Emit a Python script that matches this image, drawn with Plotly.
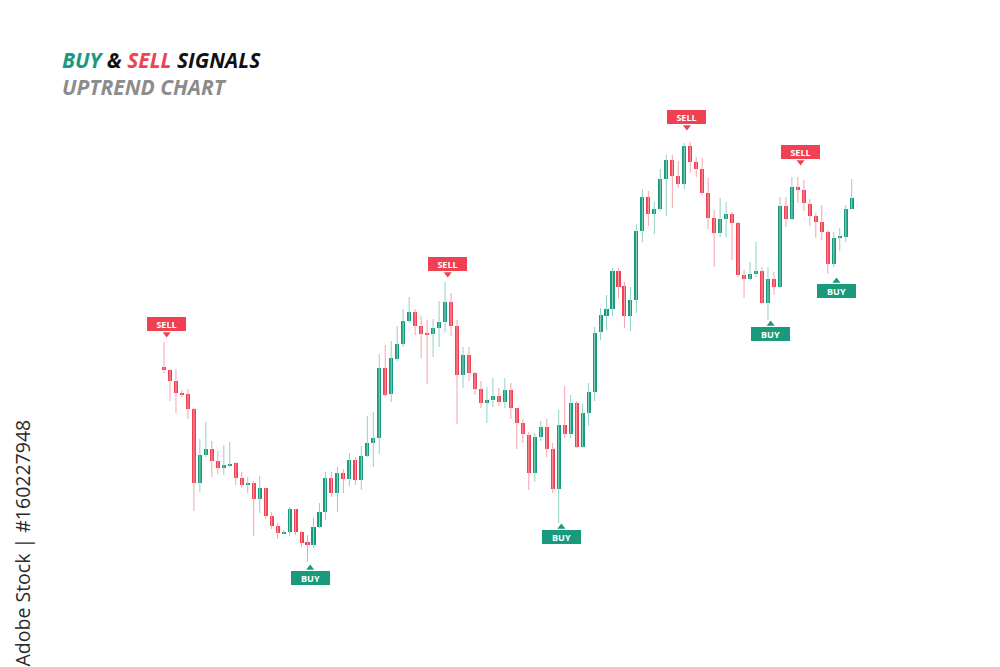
import plotly.graph_objects as go

# ---------------- data ----------------
opens = [233, 230, 219, 207, 206, 191, 117, 145, 151, 139, 132, 134, 137, 122, 115, 117, 101, 112, 84, 74,
         66, 68, 91, 68, 58, 55, 73, 88, 122, 107, 127, 121, 140, 120, 144, 157, 162, 232, 206, 241,
         256, 279, 288, 274, 267, 266, 272, 278, 298, 274, 225, 245, 227, 211, 197, 200, 204, 198, 210, 192,
         177, 165, 127, 163, 173, 151, 111, 175, 166, 197, 153, 187, 208, 268, 284, 291, 329, 314, 284, 300,
         369, 403, 386, 391, 421, 440, 424, 416, 454, 438, 431, 407, 382, 367, 381, 386, 377, 325, 321, 326,
         329, 297, 321, 313, 394, 381, 413, 410, 396, 384, 378, 368, 336, 362, 363, 391]
highs = [258, 231, 231, 210, 211, 192, 161, 178, 159, 149, 155, 158, 138, 128, 123, 119, 124, 112, 88, 77,
         70, 93, 91, 69, 65, 82, 97, 128, 128, 133, 131, 147, 143, 154, 184, 188, 246, 255, 259, 274,
         291, 303, 291, 284, 280, 281, 299, 318, 307, 280, 253, 253, 228, 219, 213, 222, 212, 222, 217, 192,
         181, 168, 167, 179, 181, 157, 190, 214, 205, 199, 196, 217, 273, 292, 305, 332, 332, 318, 313, 376,
         411, 409, 398, 431, 445, 445, 439, 457, 458, 443, 442, 422, 390, 402, 398, 388, 378, 330, 338, 358,
         333, 333, 328, 403, 403, 423, 423, 420, 401, 387, 395, 370, 368, 372, 395, 421]
lows = [227, 199, 187, 203, 181, 89, 108, 143, 123, 126, 125, 133, 115, 112, 107, 64, 87, 81, 71, 61,
        66, 64, 65, 53, 38, 52, 72, 80, 103, 88, 107, 114, 115, 110, 143, 133, 146, 204, 198, 239,
        253, 277, 265, 242, 216, 243, 253, 268, 264, 176, 212, 219, 205, 192, 177, 193, 194, 192, 181, 151,
        157, 110, 118, 159, 143, 107, 77, 162, 162, 152, 152, 174, 199, 260, 270, 284, 302, 272, 269, 287,
        358, 374, 366, 389, 384, 392, 412, 411, 427, 423, 405, 371, 333, 363, 363, 340, 323, 302, 320, 323,
        296, 280, 305, 312, 373, 380, 397, 389, 374, 362, 360, 326, 333, 349, 358, 391]
closes = [230, 219, 207, 205, 191, 117, 145, 151, 139, 132, 135, 136, 122, 115, 117, 101, 112, 84, 74, 67,
          68, 91, 68, 57, 55, 73, 88, 122, 107, 127, 121, 140, 120, 144, 157, 162, 232, 205, 242, 256,
          279, 288, 274, 266, 265, 272, 278, 298, 274, 225, 245, 227, 211, 197, 200, 204, 198, 210, 192, 177,
          166, 127, 163, 173, 151, 111, 175, 166, 197, 153, 187, 208, 267, 285, 291, 329, 313, 284, 300, 369,
          403, 386, 391, 421, 440, 424, 416, 454, 438, 431, 407, 382, 367, 381, 386, 377, 325, 321, 326, 329,
          297, 321, 313, 394, 381, 413, 410, 397, 384, 378, 368, 336, 362, 363, 391, 402]

sell_idx = [0, 47, 87, 106]
buy_idx = [24, 66, 101, 112]
sell_text = "SELL"
buy_text = "BUY"

title_buy = "BUY"
title_amp = "&"
title_sell = "SELL"
title_signals = "SIGNALS"
subtitle = "UPTREND CHART"
watermark = "Adobe Stock | #160227948"

# ---------------- styles ----------------
GREEN = "#1a9a7c"
RED = "#ef4152"
GREEN_WICK = "#8fd3c2"
RED_WICK = "#f6a3ab"
sell_gap = [11, 11, 19, 18]   # px between candle high and label
buy_gap = [9, 7, 7, 17]       # px between candle low and label
label_dx = 0.45               # small horizontal offset of labels (in candle units)

n = len(opens)
xs = list(range(n))

fig = go.Figure()

# wicks
for up, col in ((True, GREEN_WICK), (False, RED_WICK)):
    wx, wy = [], []
    for i in xs:
        if (closes[i] >= opens[i]) == up:
            wx += [i, i, None]
            wy += [lows[i], highs[i], None]
    fig.add_trace(go.Scatter(x=wx, y=wy, mode="lines", line=dict(color=col, width=1),
                             hoverinfo="skip", showlegend=False))

# bodies
for up, col in ((True, GREEN), (False, RED)):
    bx, bb, bh = [], [], []
    for i in xs:
        if (closes[i] >= opens[i]) == up:
            lo_b = min(opens[i], closes[i])
            hgt = max(abs(closes[i] - opens[i]), 1.6)
            bx.append(i)
            bb.append(lo_b)
            bh.append(hgt)
    fig.add_trace(go.Bar(x=bx, y=bh, base=bb, width=0.68, marker=dict(color=col, line=dict(width=0)),
                         showlegend=False, hoverinfo="skip"))

# signal pointers
fig.add_trace(go.Scatter(x=[i + label_dx for i in sell_idx],
                         y=[highs[i] + g - 3 for i, g in zip(sell_idx, sell_gap)],
                         mode="markers", marker=dict(symbol="triangle-down", size=7, color=RED),
                         showlegend=False, hoverinfo="skip"))
fig.add_trace(go.Scatter(x=[i + label_dx for i in buy_idx],
                         y=[lows[i] - g + 3 for i, g in zip(buy_idx, buy_gap)],
                         mode="markers", marker=dict(symbol="triangle-up", size=7, color=GREEN),
                         showlegend=False, hoverinfo="skip"))

annotations = []
for i, g in zip(sell_idx, sell_gap):
    annotations.append(dict(x=i + label_dx, y=highs[i], xref="x", yref="y", text="<b>%s</b>" % sell_text,
                            showarrow=False, yanchor="bottom", xanchor="center", yshift=g,
                            bgcolor=RED, borderwidth=0, borderpad=1, width=37, height=12,
                            font=dict(family="Open Sans", size=9, color="white")))
for i, g in zip(buy_idx, buy_gap):
    annotations.append(dict(x=i + label_dx, y=lows[i], xref="x", yref="y", text="<b>%s</b>" % buy_text,
                            showarrow=False, yanchor="top", xanchor="center", yshift=-g,
                            bgcolor=GREEN, borderwidth=0, borderpad=1, width=37, height=12,
                            font=dict(family="Open Sans", size=9, color="white")))

W, H = 1000, 667
OFF = 8  # page body margin of the html page


def px(xp):
    return (xp - OFF) / W


def py(yp):
    return 1 - (yp - OFF) / H


annotations.append(dict(
    x=px(60), y=py(60), xref="paper", yref="paper", xanchor="left", yanchor="middle",
    showarrow=False,
    text=("<b><i><span style='color:%s'>%s</span> <span style='color:#111111'>%s</span> "
          "<span style='color:%s'>%s</span> <span style='color:#111111'>%s</span></i></b>")
         % (GREEN, title_buy, title_amp, RED, title_sell, title_signals),
    font=dict(family="Open Sans", size=21)))
annotations.append(dict(
    x=px(60), y=py(87), xref="paper", yref="paper", xanchor="left", yanchor="middle",
    showarrow=False, text="<b><i>%s</i></b>" % subtitle,
    font=dict(family="Open Sans", size=21, color="#8c8c8c")))
annotations.append(dict(
    x=px(22), y=py(418), xref="paper", yref="paper", xanchor="center", yanchor="top",
    showarrow=False, text=watermark, textangle=-90,
    font=dict(family="Open Sans", size=19.5, color="#2a2a2a")))

spacing = 5.98
x0 = -(164 - OFF) / spacing
ytop = 600 - OFF
fig.update_layout(
    width=W, height=H, autosize=False,
    margin=dict(l=0, r=0, t=0, b=0),
    paper_bgcolor="white", plot_bgcolor="white",
    barmode="overlay", bargap=0,
    xaxis=dict(range=[x0, x0 + W / spacing], visible=False, fixedrange=True),
    yaxis=dict(range=[ytop - H, ytop], visible=False, fixedrange=True),
    annotations=annotations,
    showlegend=False,
)

fig.write_html("out.html")
